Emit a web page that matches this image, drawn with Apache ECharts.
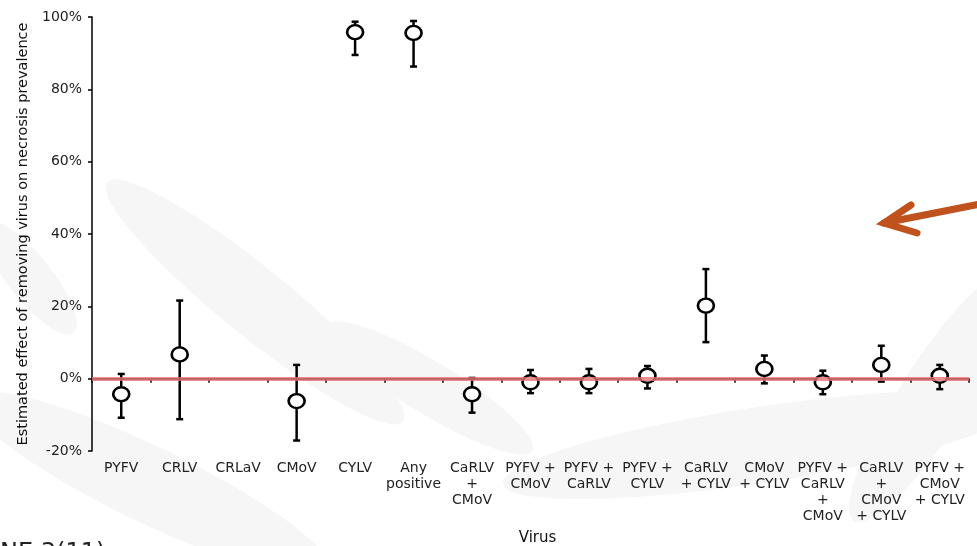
<!DOCTYPE html>
<html>
<head>
<meta charset="utf-8">
<script src="https://cdn.jsdelivr.net/npm/echarts@6/dist/echarts.min.js"></script>
<style>html,body{margin:0;padding:0;background:#fff;overflow:hidden}#c{width:977px;height:546px}</style>
</head>
<body>
<div id="c"></div>
<script>
const categories = ["PYFV","CRLV","CRLaV","CMoV","CYLV","Any\npositive","CaRLV\n+\nCMoV","PYFV +\nCMoV","PYFV +\nCaRLV","PYFV +\nCYLV","CaRLV\n+ CYLV","CMoV\n+ CYLV","PYFV +\nCaRLV\n+\nCMoV","CaRLV\n+\nCMoV\n+ CYLV","PYFV +\nCMoV\n+ CYLV"];
const estimate = [-4.3, 6.7, null, -6.2, 95.8, 95.6, -4.3, -1.0, -1.0, 0.8, 20.2, 2.7, -1.0, 3.8, 0.8];
const lower    = [-10.8, -11.2, null, -17.1, 89.5, 86.3, -9.4, -4.0, -4.0, -2.7, 10.1, -1.3, -4.3, -0.8, -2.9];
const upper    = [1.3, 21.6, null, 3.8, 98.7, 98.9, 0.2, 2.4, 2.7, 3.5, 30.3, 6.4, 2.2, 9.1, 3.8];
const yTicks = { min: -20, max: 100, interval: 20 };

const chart = echarts.init(document.getElementById('c'), null, {renderer: 'canvas'});
const font = 'DejaVu Sans, Arial, sans-serif';

const errData = categories.map((c, i) => lower[i] == null ? [i, '-', '-'] : [i, lower[i], upper[i]]);
const ptData = categories.map((c, i) => estimate[i] == null ? [i, '-'] : [i, estimate[i]]);

const sw = '#f6f6f6';
chart.setOption({
  backgroundColor: '#fff',
  animation: false,
  graphic: [
    {type: 'ellipse', shape: {cx: 0, cy: 0, rx: 190, ry: 34}, x: 255, y: 302, rotation: -0.68, style: {fill: sw}, z: -10},
    {type: 'ellipse', shape: {cx: 0, cy: 0, rx: 120, ry: 26}, x: 430, y: 388, rotation: -0.55, style: {fill: sw}, z: -10},
    {type: 'ellipse', shape: {cx: 0, cy: 0, rx: 200, ry: 38}, x: 150, y: 485, rotation: -0.45, style: {fill: sw}, z: -10},
    {type: 'ellipse', shape: {cx: 0, cy: 0, rx: 260, ry: 38}, x: 760, y: 445, rotation: 0.15, style: {fill: sw}, z: -10},
    {type: 'ellipse', shape: {cx: 0, cy: 0, rx: 150, ry: 34}, x: 935, y: 395, rotation: 1.0, style: {fill: sw}, z: -10},
    {type: 'ellipse', shape: {cx: 0, cy: 0, rx: 70, ry: 22}, x: 30, y: 278, rotation: -0.9, style: {fill: sw}, z: -10},
    {type: 'polyline', shape: {points: [[980, 204], [884, 223]]}, style: {stroke: '#c0521e', lineWidth: 7, lineCap: 'round', fill: null}, z: 50},
    {type: 'polyline', shape: {points: [[911, 205], [884, 223], [917, 233]]}, style: {stroke: '#c0521e', lineWidth: 7, lineCap: 'round', lineJoin: 'miter', fill: null}, z: 50},
    {type: 'text', left: 0, top: 542, style: {text: 'NE 3(11)', font: '24px ' + font, fill: '#222'}, z: 50}
  ],
  grid: {left: 92, top: 17, width: 877, bottom: 95, containLabel: false, outerBoundsMode: 'none'},
  xAxis: {
    type: 'category',
    data: categories,
    boundaryGap: true,
    name: 'Virus',
    nameLocation: 'middle',
    nameGap: 80,
    nameTextStyle: {fontFamily: font, fontSize: 15, color: '#111', padding: [0, 0, 0, 14]},
    axisLine: {lineStyle: {color: '#000', width: 1.5}},
    axisTick: {show: true, interval: 0, length: 4, lineStyle: {color: '#000', width: 1.5}},
    axisLabel: {interval: 0, margin: 9, fontFamily: font, fontSize: 14, color: '#222', lineHeight: 16, align: 'center'},
    splitLine: {show: false}
  },
  yAxis: {
    type: 'value',
    min: yTicks.min, max: yTicks.max, interval: yTicks.interval,
    name: 'Estimated effect of removing virus on necrosis prevalence',
    nameLocation: 'middle',
    nameGap: 61,
    nameRotate: 90,
    nameTextStyle: {fontFamily: font, fontSize: 14.5, color: '#111'},
    axisLine: {show: true, lineStyle: {color: '#000', width: 1.5}},
    axisTick: {show: true, length: 4, lineStyle: {color: '#000', width: 1.5}},
    axisLabel: {margin: 10, fontFamily: font, fontSize: 14, color: '#222', formatter: '{value}%'},
    splitLine: {show: false}
  },
  series: [
    {
      type: 'line',
      data: [],
      silent: true,
      markLine: {
        silent: true, symbol: 'none', label: {show: false},
        lineStyle: {color: 'rgba(232,112,112,0.8)', width: 4, type: 'solid'},
        data: [{yAxis: 0}]
      },
      z: 1
    },
    {
      type: 'custom',
      data: errData,
      z: 3,
      renderItem: function (params, api) {
        const lo = api.value(1), hi = api.value(2);
        if (lo === '-' || isNaN(lo)) return null;
        const p1 = api.coord([api.value(0), lo]);
        const p2 = api.coord([api.value(0), hi]);
        const cap = 3.5;
        const st = {stroke: '#000', lineWidth: 2.5, fill: null};
        return {
          type: 'group',
          children: [
            {type: 'line', shape: {x1: p1[0], y1: p1[1], x2: p2[0], y2: p2[1]}, style: st},
            {type: 'line', shape: {x1: p1[0] - cap, y1: p1[1], x2: p1[0] + cap, y2: p1[1]}, style: st},
            {type: 'line', shape: {x1: p2[0] - cap, y1: p2[1], x2: p2[0] + cap, y2: p2[1]}, style: st}
          ]
        };
      }
    },
    {
      type: 'scatter',
      data: ptData,
      symbol: 'circle',
      symbolSize: [16, 14],
      itemStyle: {color: '#fff', borderColor: '#000', borderWidth: 2.5, opacity: 1},
      z: 4
    }
  ]
});
</script>
</body>
</html>
